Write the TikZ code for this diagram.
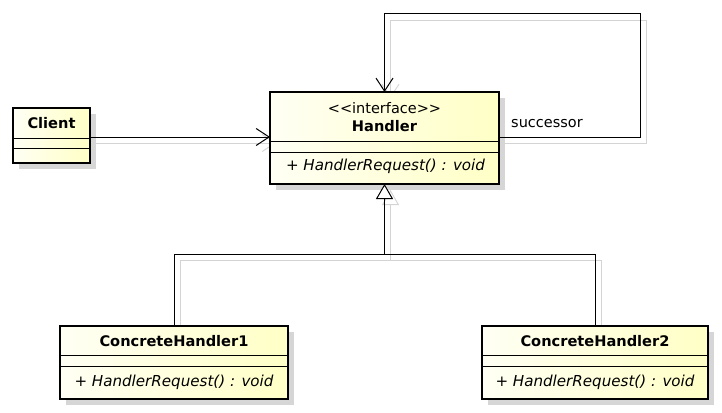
\documentclass[tikz,border=0pt]{standalone}
\usepackage{fontspec}
\setmainfont{DejaVu Sans}
\usetikzlibrary{arrows.meta,shadows}
\definecolor{boxL}{RGB}{255,255,244}
\definecolor{boxR}{RGB}{255,255,198}
\definecolor{shadowgray}{RGB}{214,214,214}
\definecolor{ghostgray}{RGB}{212,212,212}
\pgfdeclarelayer{bg}
\pgfsetlayers{bg,main}
\begin{document}
\begin{tikzpicture}[x=1pt,y=-1pt,
 cls/.style={rectangle, draw=black, line width=2.4pt, inner sep=0pt, outer sep=0pt,
   left color=boxL, right color=boxR,
   drop shadow={shadow xshift=6pt, shadow yshift=-6pt, fill=shadowgray, opacity=1}},
 divline/.style={draw=black, line width=1pt},
 nm/.style={font=\fontsize{14.6}{17}\selectfont\bfseries, inner sep=0pt},
 txt/.style={font=\fontsize{14.5}{17}\selectfont, inner sep=0pt},
 op/.style={font=\fontsize{15.1}{17}\selectfont\itshape, inner sep=0pt},
 assoc/.style={draw=black, line width=1pt, -{Straight Barb[length=13pt,width=17pt,line width=1pt]}},
 gen/.style={draw=black, line width=1pt},
 genhead/.style={gen, -{Triangle[open,length=15pt,width=17pt,fill=white,line width=1pt]}},
 ghost/.style={draw=ghostgray, line width=0.9pt, transform canvas={xshift=6pt,yshift=-6pt}},
 ghostassoc/.style={ghost, -{Straight Barb[length=13pt,width=17pt,line width=0.9pt]}},
 ghostgen/.style={ghost, -{Triangle[open,length=15pt,width=17pt,fill=white,line width=0.9pt]}},
]
\useasboundingbox (0,0) rectangle (722,412);

% class boxes
\node[cls, minimum width=77pt, minimum height=55pt] (C) at (51.5,135.5) {};
\node[cls, minimum width=229pt, minimum height=92pt] (H) at (384.5,138) {};
\node[cls, minimum width=228pt, minimum height=73pt] (CH1) at (174,362.5) {};
\node[cls, minimum width=226pt, minimum height=73pt] (CH2) at (595,362.5) {};

% compartments
\draw[divline] (C.west |- 0,138) -- (C.east |- 0,138);
\draw[divline] (C.west |- 0,148) -- (C.east |- 0,148);
\draw[divline] (H.west |- 0,141) -- (H.east |- 0,141);
\draw[divline] (H.west |- 0,152) -- (H.east |- 0,152);
\draw[divline] (CH1.west |- 0,355) -- (CH1.east |- 0,355);
\draw[divline] (CH1.west |- 0,366) -- (CH1.east |- 0,366);
\draw[divline] (CH2.west |- 0,355) -- (CH2.east |- 0,355);
\draw[divline] (CH2.west |- 0,366) -- (CH2.east |- 0,366);

% texts
\node[nm] (Ct) at (51.5,123) {Client};
\node[txt] (Hs) at (384.5,108) {<{}<interface>{}>};
\node[nm] (Ht) at (384.5,126) {Handler};
\node[op] (Hm) at (385.5,166) {+ HandlerRequest() : void};
\node[nm] (C1t) at (174,341) {ConcreteHandler1};
\node[op] (C1m) at (174,382) {+ HandlerRequest() : void};
\node[nm] (C2t) at (595,341) {ConcreteHandler2};
\node[op] (C2m) at (595,382) {+ HandlerRequest() : void};
\node[txt, anchor=west] (succ) at (511,124) {successor};

% junction of generalization
\coordinate (J) at (384.5,254);

% connector shadows
\begin{pgfonlayer}{bg}
\draw[ghostassoc] (C.east |- 0,137) -- (H.west |- 0,137);
\draw[ghostassoc] (H.east |- 0,137) -- (640,137) |- (384.5,14) -- (H.north);
\draw[ghost] (CH1.north) |- (J);
\draw[ghost] (CH2.north) |- (J);
\draw[ghostgen] (J) -- (H.south);
\end{pgfonlayer}

% connectors
\draw[assoc] (C.east |- 0,137) -- (H.west |- 0,137);
\draw[assoc] (H.east |- 0,137) -- (640,137) |- (384.5,14) -- (H.north);
\draw[gen] (CH1.north) |- (J);
\draw[gen] (CH2.north) |- (J);
\draw[genhead] (J) -- (H.south);
\end{tikzpicture}
\end{document}
